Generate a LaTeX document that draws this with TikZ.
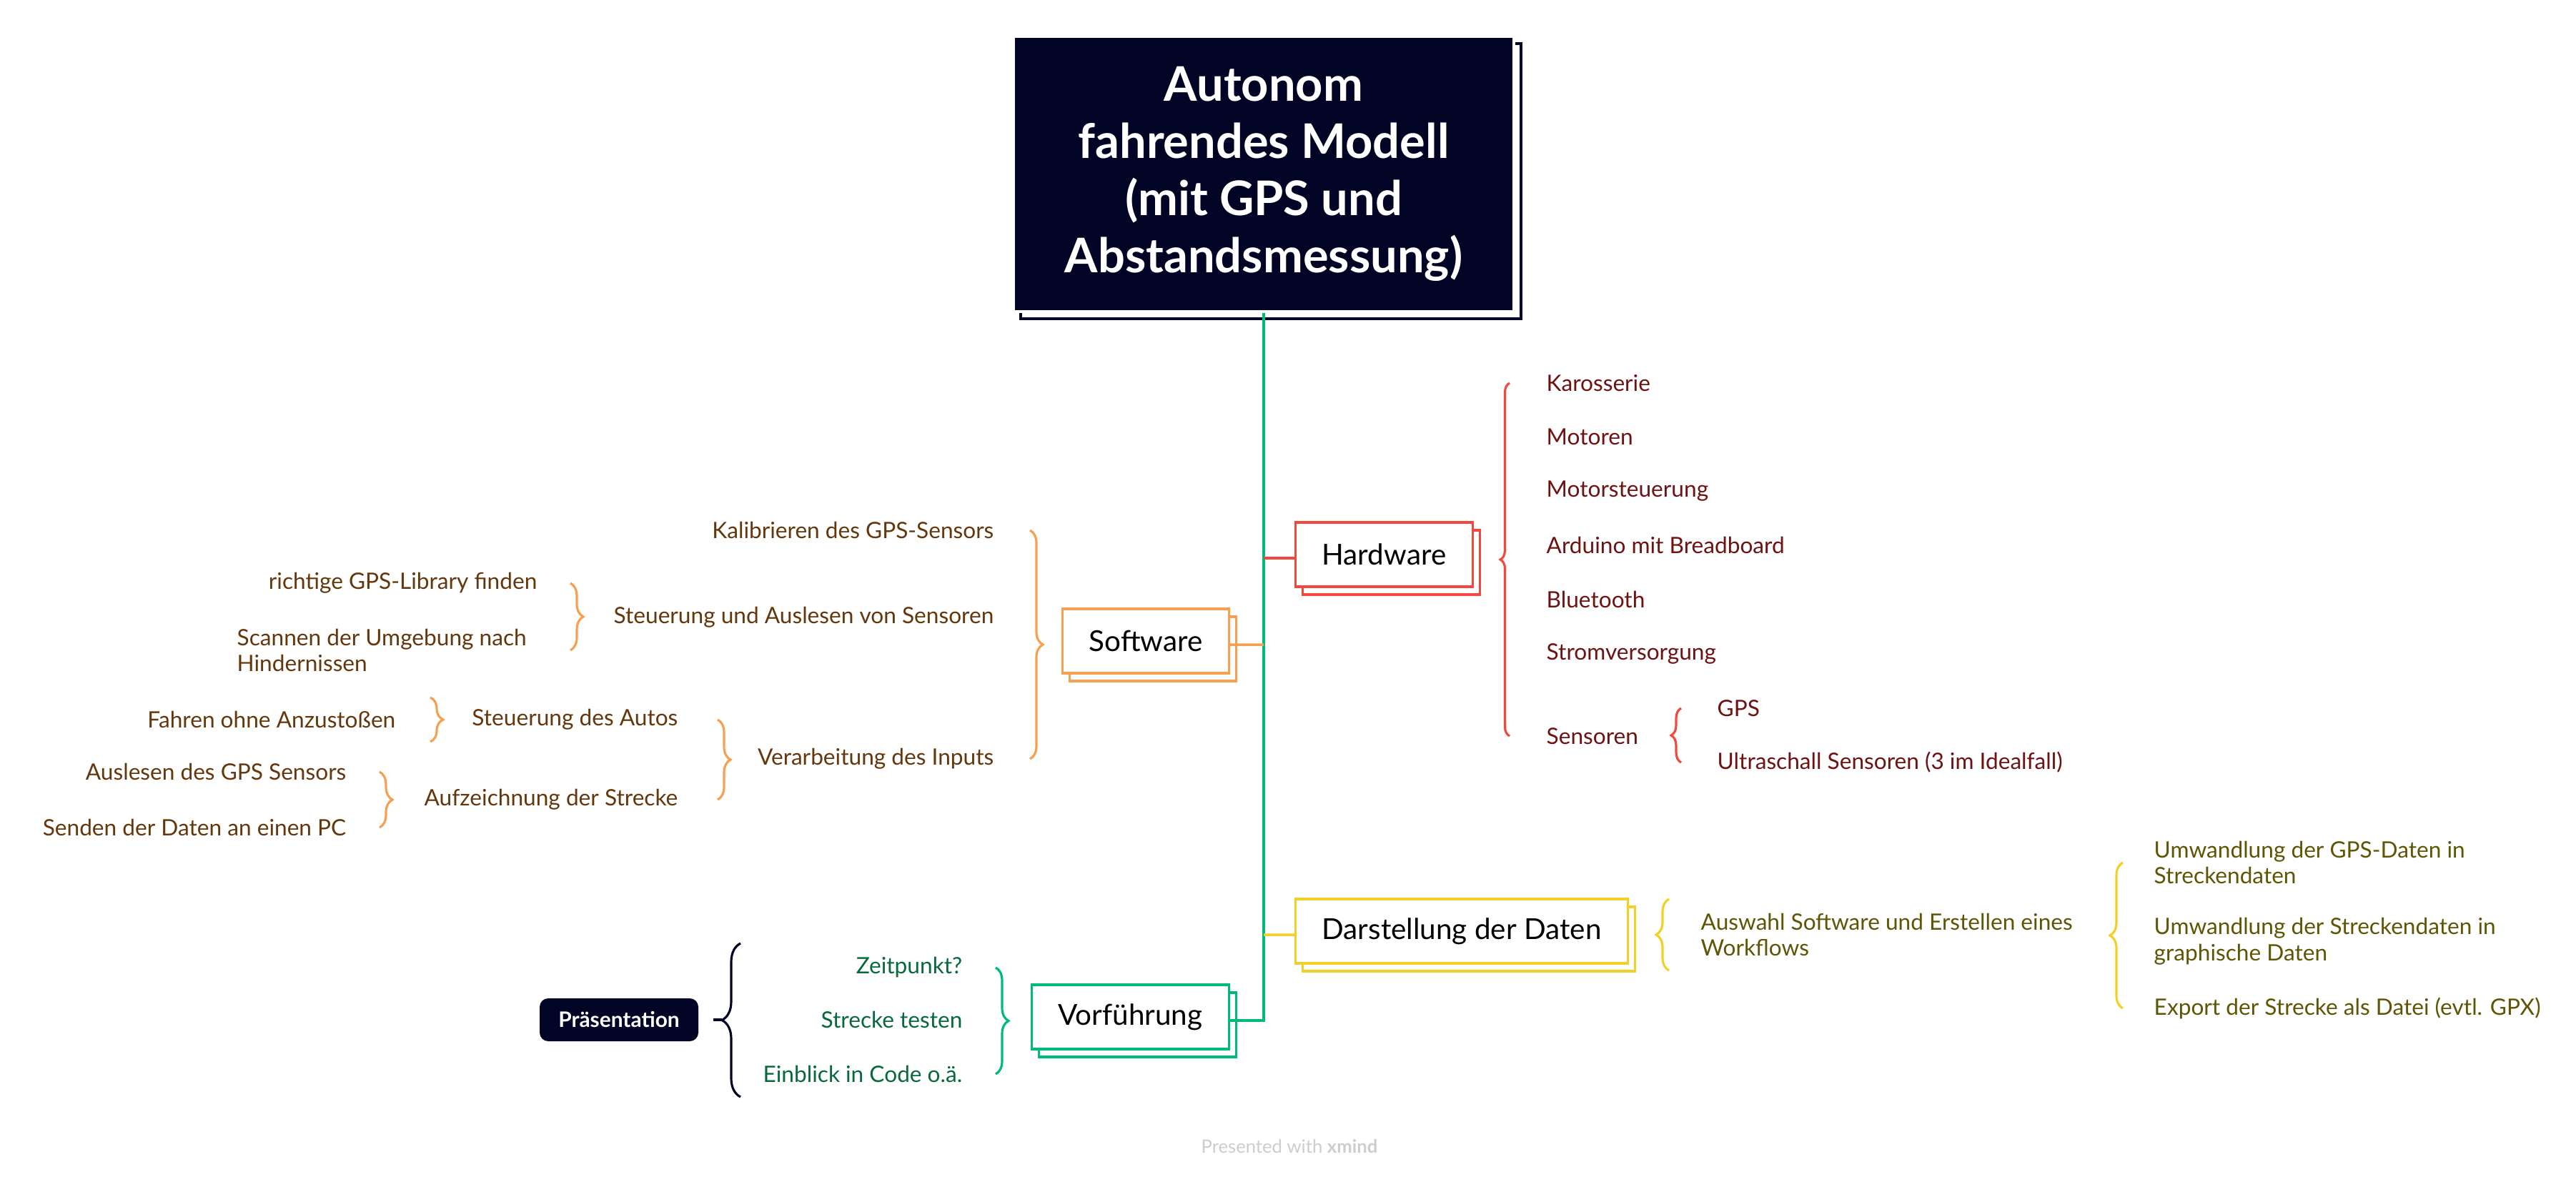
\documentclass[tikz,border=0pt]{standalone}
\usepackage{fontspec}
\setmainfont{Lato}
\usepackage{tikz}
\usetikzlibrary{shadows,decorations.pathreplacing}
\definecolor{navy}{RGB}{2,4,38}
\definecolor{hwred}{RGB}{242,72,62}
\definecolor{hwtext}{RGB}{110,18,18}
\definecolor{sworange}{RGB}{246,160,80}
\definecolor{swtext}{RGB}{100,55,12}
\definecolor{dayellow}{RGB}{242,208,40}
\definecolor{datext}{RGB}{95,85,5}
\definecolor{vfgreen}{RGB}{0,186,124}
\definecolor{vftext}{RGB}{8,105,60}
\definecolor{faint}{RGB}{205,205,205}

\begin{document}
\begin{tikzpicture}[
    item/.style={inner sep=0pt, font=\fontsize{9}{10.5}\selectfont},
    branch/.style={draw=#1, fill=white, line width=0.9pt, inner xsep=3.7mm,
        minimum height=9mm, font=\fontsize{11.5}{13}\selectfont,
        general shadow={shadow xshift=1mm, shadow yshift=-1.1mm, fill=white, draw=#1, line width=0.9pt}},
    curly/.style={draw=#1, line width=0.9pt, decorate, decoration={brace, amplitude=1.8mm}},
    stub/.style={draw=#1, line width=1pt}
]
    \fill[white] (0,0) rectangle (36.04,-16.54);
    \useasboundingbox (0,0) rectangle (36.04,-16.54);

    % Central topic
    \node[fill=navy, draw=white, line width=1pt, text=white, align=center,
        minimum width=7cm, minimum height=3.85cm,
        font=\bfseries\fontsize{19}{22.7}\selectfont,
        general shadow={shadow xshift=1mm, shadow yshift=-1mm, fill=white, draw=navy, line width=0.9pt}]
        (root) at (17.68,-2.435) {Autonom\\fahrendes Modell\\(mit GPS und\\Abstandsmessung)};

    % Main branches
    \node[branch=hwred, anchor=west] (hw) at (18.11,-7.76) {Hardware};
    \node[branch=sworange, anchor=east] (sw) at (17.21,-8.97) {Software};
    \node[branch=dayellow, anchor=west] (da) at (18.11,-13.03) {Darstellung der Daten};
    \node[branch=vfgreen, anchor=east] (vf) at (17.21,-14.23) {Vorführung};

    \draw[stub=vfgreen, line width=1.1pt] (root.south) |- ([yshift=-0.5mm]vf.east);
    \draw[stub=hwred] (root.south |- hw.west) ++(0,-0.05) -- ([yshift=-0.5mm]hw.west);
    \draw[stub=sworange] (root.south |- sw.east) ++(0,-0.05) -- ([yshift=-0.5mm]sw.east);
    \draw[stub=dayellow] (root.south |- da.west) ++(0,-0.05) -- ([yshift=-0.5mm]da.west);

    % Hardware
    \begin{scope}[every node/.style={item, text=hwtext, anchor=west}]
    \node (kar) at (21.63,-5.36) {Karosserie};
    \node (mot) at (21.63,-6.11) {Motoren};
    \node (mst) at (21.63,-6.87) {Motorsteuerung};
    \node (ard) at (21.63,-7.63) {Arduino mit Breadboard};
    \node (blu) at (21.63,-8.39) {Bluetooth};
    \node (str) at (21.63,-9.15) {Stromversorgung};
    \node (sen) at (21.63,-10.30) {Sensoren};
    \node (gps) at (24.02,-9.91) {GPS};
    \node (ult) at (24.02,-10.67) {Ultraschall Sensoren (3 im Idealfall)};
    \end{scope}
    \draw[curly=hwred, decoration={amplitude=1.3mm}] ([xshift=-5.1mm]sen.west) -- ([xshift=-5.1mm]kar.west);
    \draw[curly=hwred, decoration={amplitude=1.4mm}] ([xshift=-5mm]ult.west) -- ([xshift=-5mm]gps.west);

    % Software
    \begin{scope}[every node/.style={item, text=swtext, anchor=east}]
    \node (kal) at (13.91,-7.42) {Kalibrieren des GPS-Sensors};
    \node (sas) at (13.91,-8.64) {Steuerung und Auslesen von Sensoren};
    \node (vdi) at (13.91,-10.62) {Verarbeitung des Inputs};
    \node (rgl) at (7.52,-8.16) {richtige GPS-Library finden};
    \node[anchor=west, align=left] (scn) at (3.31,-9.10) {Scannen der Umgebung nach\\Hindernissen};
    \node (sda) at (9.49,-10.07) {Steuerung des Autos};
    \node (azs) at (9.49,-11.19) {Aufzeichnung der Strecke};
    \node (foa) at (5.54,-10.07) {Fahren ohne Anzustoßen};
    \node (ags) at (4.85,-10.80) {Auslesen des GPS Sensors};
    \node (sdp) at (4.85,-11.58) {Senden der Daten an einen PC};
    \end{scope}
    \draw[curly=sworange] ([xshift=5mm]kal.east) -- ([xshift=5mm]vdi.east);
    \draw[curly=sworange] ([xshift=4.6mm]rgl.east) -- ([xshift=4.6mm]rgl.east |- scn.center);
    \draw[curly=sworange] ([xshift=5.5mm]sda.east) -- ([xshift=5.5mm]azs.east);
    \draw[curly=sworange] ([shift={(4.8mm,3.1mm)}]foa.east) -- ([shift={(4.8mm,-3.1mm)}]foa.east);
    \draw[curly=sworange] ([xshift=4.6mm]ags.east) -- ([xshift=4.6mm]sdp.east);

    % Darstellung der Daten
    \begin{scope}[every node/.style={item, text=datext, anchor=west, align=left}]
    \node (aws) at (23.79,-13.08) {Auswahl Software und Erstellen eines\\Workflows};
    \node (uw1) at (30.13,-12.07) {Umwandlung der GPS-Daten in\\Streckendaten};
    \node (uw2) at (30.13,-13.17) {Umwandlung der Streckendaten in\\graphische Daten};
    \node (exp) at (30.13,-14.11) {Export der Strecke als Datei (evtl. GPX)};
    \end{scope}
    \draw[curly=dayellow] ([shift={(-4.4mm,-5mm)}]aws.west) -- ([shift={(-4.4mm,5mm)}]aws.west);
    \draw[curly=dayellow] ([xshift=-4.3mm]exp.west) -- ([xshift=-4.3mm]uw1.west);

    % Vorfuehrung
    \begin{scope}[every node/.style={item, text=vftext, anchor=east}]
    \node (zpk) at (13.47,-13.54) {Zeitpunkt?};
    \node (stt) at (13.47,-14.27) {Strecke testen};
    \node (ein) at (13.47,-15.03) {Einblick in Code o.ä.};
    \end{scope}
    \draw[curly=vfgreen] ([xshift=4.6mm]zpk.east) -- ([xshift=4.6mm]ein.east);

    % Praesentation
    \node[fill=navy, rounded corners=1.2mm, text=white, minimum width=2.22cm, minimum height=6mm,
        font=\bfseries\fontsize{8.5}{10}\selectfont] (pr) at (8.66,-14.27) {Präsentation};
    \coordinate (pbtop) at (10.36,-13.20);
    \coordinate (pbbot) at (10.36,-15.35);
    \coordinate (prtip) at (10.10,-14.27);
    \draw[curly=navy, decoration={amplitude=2.6mm}] (pbbot) -- (pbtop);
    \draw[navy, line width=0.9pt, shorten <=2mm] (pr.east) -- (prtip);

    \node[text=faint, font=\fontsize{7.3}{9}\selectfont] (credit) at (18.04,-16.04) {Presented with \textbf{xmind}};
\end{tikzpicture}
\end{document}
